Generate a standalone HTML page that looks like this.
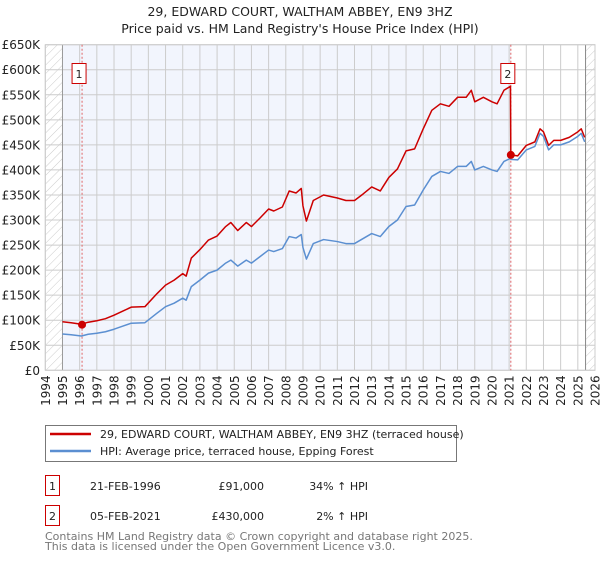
<!DOCTYPE html>
<html><head><meta charset="utf-8"><style>
body{margin:0;background:#fff;width:600px;height:560px;overflow:hidden;font-family:"DejaVu Sans","Liberation Sans",sans-serif;}
svg text{font-family:"DejaVu Sans","Liberation Sans",sans-serif;}
</style></head><body>
<svg id="c" width="600" height="560" xmlns="http://www.w3.org/2000/svg">
<defs><pattern id="hatch" width="6" height="6" patternUnits="userSpaceOnUse" patternTransform="rotate(45)"><line x1="0" y1="0" x2="0" y2="6" stroke="#ccc" stroke-width="1"/></pattern></defs>
<text x="300" y="16" text-anchor="middle" font-size="12.5" fill="#222">29, EDWARD COURT, WALTHAM ABBEY, EN9 3HZ</text>
<text x="300" y="33" text-anchor="middle" font-size="12.5" fill="#222">Price paid vs. HM Land Registry's House Price Index (HPI)</text>
<g id="plot"></g>
<g>
<rect x="45.5" y="425.5" width="411" height="36" fill="#fff" stroke="#777"/>
<line x1="50" y1="434" x2="91" y2="434" stroke="#cc0000" stroke-width="2.5"/>
<text x="100" y="438" font-size="11" fill="#222">29, EDWARD COURT, WALTHAM ABBEY, EN9 3HZ (terraced house)</text>
<line x1="50" y1="451" x2="91" y2="451" stroke="#5b8fd1" stroke-width="2.5"/>
<text x="100" y="455" font-size="11" fill="#222">HPI: Average price, terraced house, Epping Forest</text>
</g>
<g font-size="11" fill="#222">
<rect x="45.5" y="475.5" width="14" height="20" fill="#fff" stroke="#cc0000"/>
<text x="52.5" y="490" text-anchor="middle">1</text>
<text x="90" y="490">21-FEB-1996</text>
<text x="264" y="490" text-anchor="end">£91,000</text>
<text x="368" y="490" text-anchor="end">34% ↑ HPI</text>
<rect x="45.5" y="505.5" width="14" height="20" fill="#fff" stroke="#cc0000"/>
<text x="52.5" y="520" text-anchor="middle">2</text>
<text x="90" y="520">05-FEB-2021</text>
<text x="264" y="520" text-anchor="end">£430,000</text>
<text x="368" y="520" text-anchor="end">2% ↑ HPI</text>
</g>
<text x="45" y="540" font-size="11" fill="#777">Contains HM Land Registry data © Crown copyright and database right 2025.</text>
<text x="45" y="550" font-size="11" fill="#777">This data is licensed under the Open Government Licence v3.0.</text>
</svg>
<script>
const dates=[1995.0,1995.5,1996.1,1996.5,1997.0,1997.5,1998.0,1998.5,1999.0,1999.8,2000.5,2001.0,2001.5,2002.0,2002.2,2002.5,2003.0,2003.5,2004.0,2004.5,2004.8,2005.2,2005.7,2006.0,2006.5,2007.0,2007.3,2007.8,2008.2,2008.6,2008.9,2009.0,2009.2,2009.6,2010.2,2011.0,2011.5,2012.0,2012.5,2013.0,2013.5,2014.0,2014.5,2015.0,2015.5,2016.0,2016.5,2017.0,2017.5,2018.0,2018.5,2018.8,2019.0,2019.5,2020.0,2020.3,2020.7,2021.08,2021.10,2021.5,2022.0,2022.5,2022.8,2023.0,2023.3,2023.6,2024.0,2024.5,2025.0,2025.2,2025.4];
const hpiValues=[72.5,71,68.5,72,74,77,82,88,94,95,114,127,134,144,140,167,180,194,200,214,220,208,220,214,227,240,237,243,267,264,271,245,222,253,261,257,253,253,263,273,267,287,300,327,330,360,387,397,393,407,407,417,400,407,400,397,417,423,421,420,440,447,473,467,440,450,450,456,467,473,456];
const propertyValues=[97,95,92,96,99,103,110,118,126,127,153,170,180,193,188,224,241,260,268,287,295,279,295,287,304,322,318,326,358,354,363,328,298,339,350,344,339,339,352,366,358,385,402,438,442,482,519,532,527,545,545,559,536,545,536,532,559,567,430,428,449,456,482,476,449,459,459,465,476,482,465];
const saleDates=[1996.14,2021.10];
const salePrices=[91,430];
const saleLabels=["1","2"];
const yTicks=[0,50,100,150,200,250,300,350,400,450,500,550,600,650];
const yTickLabels=["£0","£50K","£100K","£150K","£200K","£250K","£300K","£350K","£400K","£450K","£500K","£550K","£600K","£650K"];
const xTicks=[1994,1995,1996,1997,1998,1999,2000,2001,2002,2003,2004,2005,2006,2007,2008,2009,2010,2011,2012,2013,2014,2015,2016,2017,2018,2019,2020,2021,2022,2023,2024,2025,2026];

const X0=45.3,X1=595,Y0=370.3,YT=44.7;
const x=d=>X0+(d-1994)*(X1-X0)/32;
const y=v=>Y0-v*(Y0-YT)/650;
const NS="http://www.w3.org/2000/svg";
const g=document.getElementById('plot');
function mk(tag,attrs,parent){const e=document.createElementNS(NS,tag);for(const k in attrs)e.setAttribute(k,attrs[k]);(parent||g).appendChild(e);return e;}

const shade=mk('rect',{x:x(1995),y:YT,width:x(saleDates[1])-x(1995),height:Y0-YT,fill:'#f2f5fd'});


const h1=mk('rect',{x:X0,y:YT,width:x(1995)-X0,height:Y0-YT,fill:'url(#hatch)'});


const h2=mk('rect',{x:x(2025.45),y:YT,width:X1-x(2025.45),height:Y0-YT,fill:'url(#hatch)'});



yTicks.forEach((v,i)=>{
  const l=mk('line',{x1:X0,x2:X1,y1:y(v),y2:y(v),stroke:'#cccccc','stroke-width':1});
  
  
  const t=mk('text',{x:40,y:y(v)+4.5,'text-anchor':'end','font-size':12,fill:'#222'});
  t.textContent=yTickLabels[i];
  
  
});
xTicks.forEach(d=>{
  const dark=(d===1995);
  const l=mk('line',{x1:x(d),x2:x(d),y1:YT,y2:Y0,stroke:dark?'#999':'#cccccc','stroke-width':1});
  
  
  const t=mk('text',{x:0,y:0,'text-anchor':'end','font-size':12,fill:'#222',transform:`translate(${x(d)+4.5},${Y0+5}) rotate(-90)`});
  t.textContent=String(d);
  
  
});
const endLine=mk('line',{x1:x(2025.45),x2:x(2025.45),y1:YT,y2:Y0,stroke:'#888','stroke-width':1});


const border=mk('rect',{x:X0,y:YT,width:X1-X0,height:Y0-YT,fill:'none',stroke:'#ccc'});



saleDates.forEach((d,i)=>{
  const l=mk('line',{x1:x(d),x2:x(d),y1:YT,y2:Y0,stroke:'#e06666','stroke-width':1,'stroke-dasharray':'2,2'});
  
  
});

const hp=mk('polyline',{points:dates.map((d,i)=>x(d)+','+y(hpiValues[i])).join(' '),fill:'none',stroke:'#5b8fd1','stroke-width':1.5,'stroke-linejoin':'round'});


const pp=mk('polyline',{points:dates.map((d,i)=>x(d)+','+y(propertyValues[i])).join(' '),fill:'none',stroke:'#cc0000','stroke-width':1.5,'stroke-linejoin':'round'});



saleDates.forEach((d,i)=>{
  const c=mk('circle',{cx:x(d),cy:y(salePrices[i]),r:4,fill:'#cc0000'});
  
  
  const bx=x(d)-9.5;
  const r=mk('rect',{x:bx-0.5,y:63.5,width:14,height:20,fill:'#fff',stroke:'#cc0000'});
  
  
  const t=mk('text',{x:bx+6.5,y:78,'text-anchor':'middle','font-size':11,fill:'#222'});
  t.textContent=saleLabels[i];
  
  
});
</script>
</body></html>
